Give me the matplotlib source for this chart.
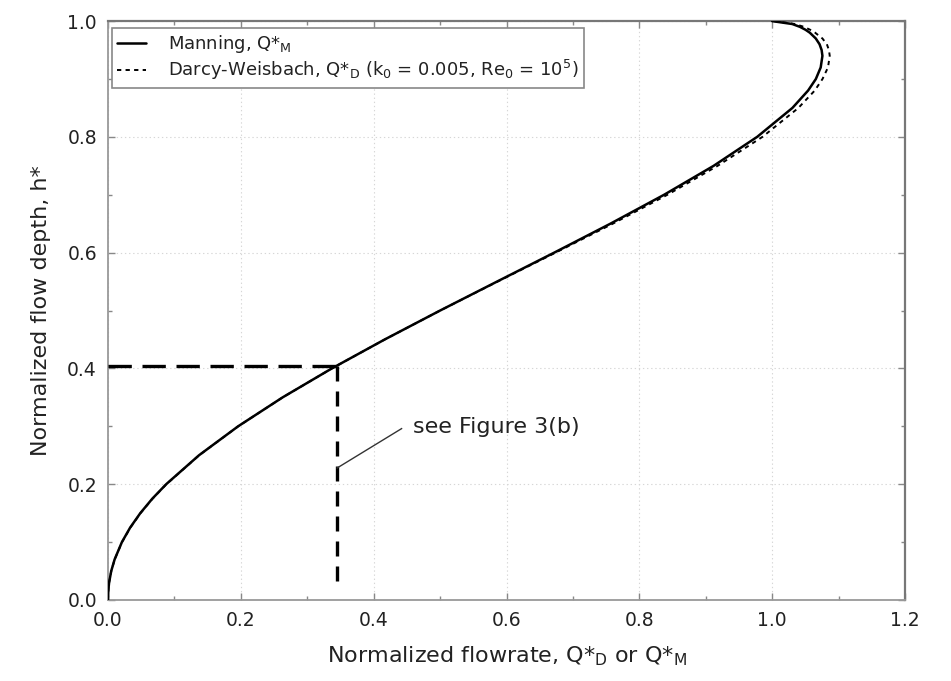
import matplotlib
matplotlib.use("Agg")
import matplotlib.pyplot as plt
from matplotlib.ticker import MultipleLocator, FormatStrFormatter

plt.rcParams['font.family'] = ['DejaVu Sans']
plt.rcParams['mathtext.fontset'] = 'dejavusans'

# Normalized flow depth h*
h_star = [0.0, 0.01, 0.02, 0.03, 0.05, 0.07, 0.10, 0.125, 0.15, 0.175, 0.20, 0.25,
          0.30, 0.35, 0.40, 0.45, 0.50, 0.55, 0.60, 0.65, 0.70, 0.75, 0.80, 0.85,
          0.88, 0.90, 0.92, 0.94, 0.95, 0.96, 0.97, 0.98, 0.985, 0.99, 0.995, 1.0]
# Manning, Q*_M
q_manning = [0.0, 0.0002, 0.0007, 0.0016, 0.0048, 0.0099, 0.0209, 0.0333, 0.0486, 0.0667,
             0.0876, 0.1370, 0.1959, 0.2629, 0.3370, 0.4166, 0.5000, 0.5857, 0.6718, 0.7564,
             0.8373, 0.9119, 0.9774, 1.0305, 1.0541, 1.0658, 1.0731, 1.0757, 1.0745, 1.0714,
             1.0657, 1.0567, 1.0503, 1.0420, 1.0302, 1.0000]
# Darcy-Weisbach, Q*_D
q_darcy = [0.0, 0.0002, 0.0007, 0.0016, 0.0049, 0.0100, 0.0211, 0.0336, 0.0489, 0.0670,
           0.0879, 0.1372, 0.1960, 0.2630, 0.3371, 0.4167, 0.5001, 0.5865, 0.6738, 0.7600,
           0.8423, 0.9179, 0.9854, 1.0395, 1.0641, 1.0758, 1.0841, 1.0867, 1.0855, 1.0824,
           1.0757, 1.0647, 1.0573, 1.0480, 1.0342, 1.0030]

# Reference point (see Figure 3(b))
ref_q = 0.345
ref_h = 0.405
ref_h_bottom = 0.02
note_text = 'see Figure 3(b)'
note_line_q = [0.345, 0.442]
note_line_h = [0.228, 0.296]
note_pos = (0.459, 0.298)

fig = plt.figure(figsize=(9.51, 6.81), dpi=100)
ax = fig.add_axes([0.1136, 0.1190, 0.8380, 0.8500])

ax.plot(q_manning, h_star, color='black', lw=1.8, solid_capstyle='round',
        label='Manning, Q*$_{\\mathrm{M}}$', zorder=4)
ax.plot(q_darcy, h_star, color='black', lw=1.4, linestyle=(0, (2.2, 2.2)),
        label='Darcy-Weisbach, Q*$_{\\mathrm{D}}$ (k$_{\\mathrm{0}}$ = 0.005, Re$_{\\mathrm{0}}$ = 10$^{5}$)',
        zorder=3)

ax.plot([0.0, ref_q], [ref_h, ref_h], color='black', lw=2.4, linestyle=(0, (7, 3.2)), zorder=5)
ax.plot([ref_q, ref_q], [ref_h, ref_h_bottom], color='black', lw=2.4, linestyle=(0, (4.5, 3.0)), zorder=5)

ax.plot(note_line_q, note_line_h, color='#333333', lw=1.0, zorder=5)
ax.text(note_pos[0], note_pos[1], note_text, fontsize=16, color='#222222',
        va='center', ha='left')

ax.set_xlim(0.0, 1.2)
ax.set_ylim(0.0, 1.0)
ax.xaxis.set_major_locator(MultipleLocator(0.2))
ax.xaxis.set_minor_locator(MultipleLocator(0.1))
ax.yaxis.set_major_locator(MultipleLocator(0.2))
ax.yaxis.set_minor_locator(MultipleLocator(0.1))
ax.xaxis.set_major_formatter(FormatStrFormatter('%.1f'))
ax.yaxis.set_major_formatter(FormatStrFormatter('%.1f'))

ax.tick_params(which='both', direction='in', top=True, right=True, color='#888888')
ax.tick_params(which='major', length=5, width=1.0, labelsize=13.5, labelcolor='#222222', pad=8)
ax.tick_params(which='minor', length=3, width=1.0)

ax.grid(True, which='major', color='#d6d6d6', linestyle=(0, (1.2, 2.5)), lw=0.8)
for side in ['left', 'bottom']:
    ax.spines[side].set_color('#999999')
    ax.spines[side].set_linewidth(1.3)
for side in ['right', 'top']:
    ax.spines[side].set_color('#777777')
    ax.spines[side].set_linewidth(1.6)

ax.set_xlabel('Normalized flowrate, Q*$_{\\mathrm{D}}$ or Q*$_{\\mathrm{M}}$',
              fontsize=16, color='#222222', labelpad=10)
ax.set_ylabel('Normalized flow depth, h*', fontsize=16, color='#222222', labelpad=12)

leg = ax.legend(loc='upper left', bbox_to_anchor=(0.005, 0.988), fontsize=13,
                frameon=True, fancybox=False, framealpha=1.0, edgecolor='#888888',
                handlelength=1.6, handletextpad=1.2, borderpad=0.3, labelspacing=0.15,
                borderaxespad=0.0)
leg.get_frame().set_linewidth(1.2)
for t in leg.get_texts():
    t.set_color('#222222')

fig.savefig('out.png', dpi=100, facecolor='white')
